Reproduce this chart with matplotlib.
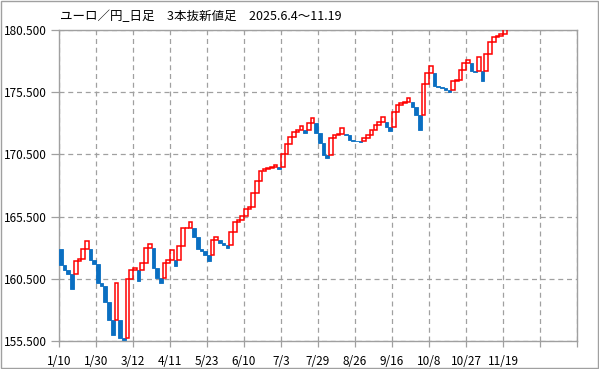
import matplotlib
matplotlib.use("Agg")
import matplotlib.pyplot as plt
from matplotlib.patches import Rectangle

plt.rcParams['font.family'] = ['Noto Sans CJK JP', 'DejaVu Sans']

title = "ユーロ／円_日足　3本抜新値足　2025.6.4～11.19"

# 3本抜新値足: first line's open, then the close of every line
first_open = 162.9
closes = [
    161.6, 161.2, 160.9, 159.7, 161.95, 162.1, 162.9, 163.5, 162.0, 161.7,
    160.2, 159.9, 158.6, 157.2, 156.0, 160.2, 155.77, 155.56, 160.48, 161.2,
    161.4, 160.3, 161.75, 162.95, 163.3, 161.4, 160.6, 160.2, 161.75, 162.0,
    162.8, 161.5, 163.1, 164.55, 164.6, 165.05, 163.9, 162.9, 162.7, 162.4,
    161.9, 163.6, 163.9, 163.35, 163.2, 163.0, 164.3, 165.1, 165.2, 165.55,
    166.1, 166.25, 167.4, 168.4, 169.2, 169.3, 169.4, 169.5, 169.65, 169.3,
    170.5, 171.3, 171.9, 172.3, 172.5, 172.75, 172.2, 173.0, 173.45, 172.2,
    171.4, 170.45, 170.25, 171.85, 172.05, 172.15, 172.6, 172.05, 171.65, 171.6,
    171.55, 171.5, 171.85, 172.05, 172.45, 172.85, 173.1, 173.5, 172.7, 172.4,
    173.9, 174.5, 174.65, 174.75, 175.0, 174.3, 173.65, 172.45, 176.15, 177.07,
    177.6, 176.0, 175.9, 175.8, 175.65, 175.5, 176.4, 176.5, 177.3, 177.85,
    178.1, 177.2, 177.15, 178.35, 176.4, 178.6, 179.55, 179.9, 180.05, 180.2,
    180.8,
]
x_labels = ['1/10', '1/30', '3/12', '4/11', '5/23', '6/10', '7/3', '7/29',
            '8/26', '9/16', '10/8', '10/27', '11/19', '', '']
y_ticks = [155.5, 160.5, 165.5, 170.5, 175.5, 180.5]

# opens: same direction -> previous close, reversal -> previous open
opens = [first_open]
for i in range(1, len(closes)):
    prev_up = closes[i - 1] > opens[i - 1]
    up = closes[i] > closes[i - 1]
    opens.append(closes[i - 1] if up == prev_up else opens[i - 1])

up_x = [i for i in range(len(closes)) if closes[i] > opens[i]]
dn_x = [i for i in range(len(closes)) if closes[i] <= opens[i]]

fig = plt.figure(figsize=(5.99, 3.69), dpi=100)
ax = fig.add_axes([59 / 599, 1 - 341 / 369, 518 / 599, 311 / 369])

ax.bar(dn_x, [closes[i] - opens[i] for i in dn_x], bottom=[opens[i] for i in dn_x],
       width=1.0, align='edge', color='#0a6fc2', edgecolor='#0a6fc2',
       linewidth=0.6, zorder=3)
ax.bar(up_x, [closes[i] - opens[i] for i in up_x], bottom=[opens[i] for i in up_x],
       width=1.0, align='edge', fill=False, edgecolor='#ff0000', linewidth=1.1, zorder=4)

ax.set_xlim(0, 140)
ax.set_ylim(155.5, 180.5)
ax.set_xticks(range(0, 141, 10))
ax.set_xticklabels(x_labels)
ax.set_yticks(y_ticks)
ax.set_yticklabels(['%.3f' % v for v in y_ticks])
ax.grid(True, color='#a0a0a0', linestyle=(0, (4, 3)), linewidth=0.9, zorder=0)
ax.set_axisbelow(True)

for s in ax.spines.values():
    s.set_color('#a0a0a0')
    s.set_linewidth(1.0)
ax.tick_params(axis='y', length=6, width=0.9, color='#a0a0a0', pad=3, labelsize=8.5)
ax.tick_params(axis='x', length=4, width=0.9, color='#a0a0a0', pad=6, labelsize=8.5)

fig.text(60 / 599, 1 - 17 / 369, title, fontsize=9, va='center', ha='left')
fig.patches.append(Rectangle((0.001, 0.002), 0.997, 0.996, transform=fig.transFigure,
                             fill=False, edgecolor='#a0a0a0', linewidth=1.0))

fig.savefig('out.png', dpi=100)
